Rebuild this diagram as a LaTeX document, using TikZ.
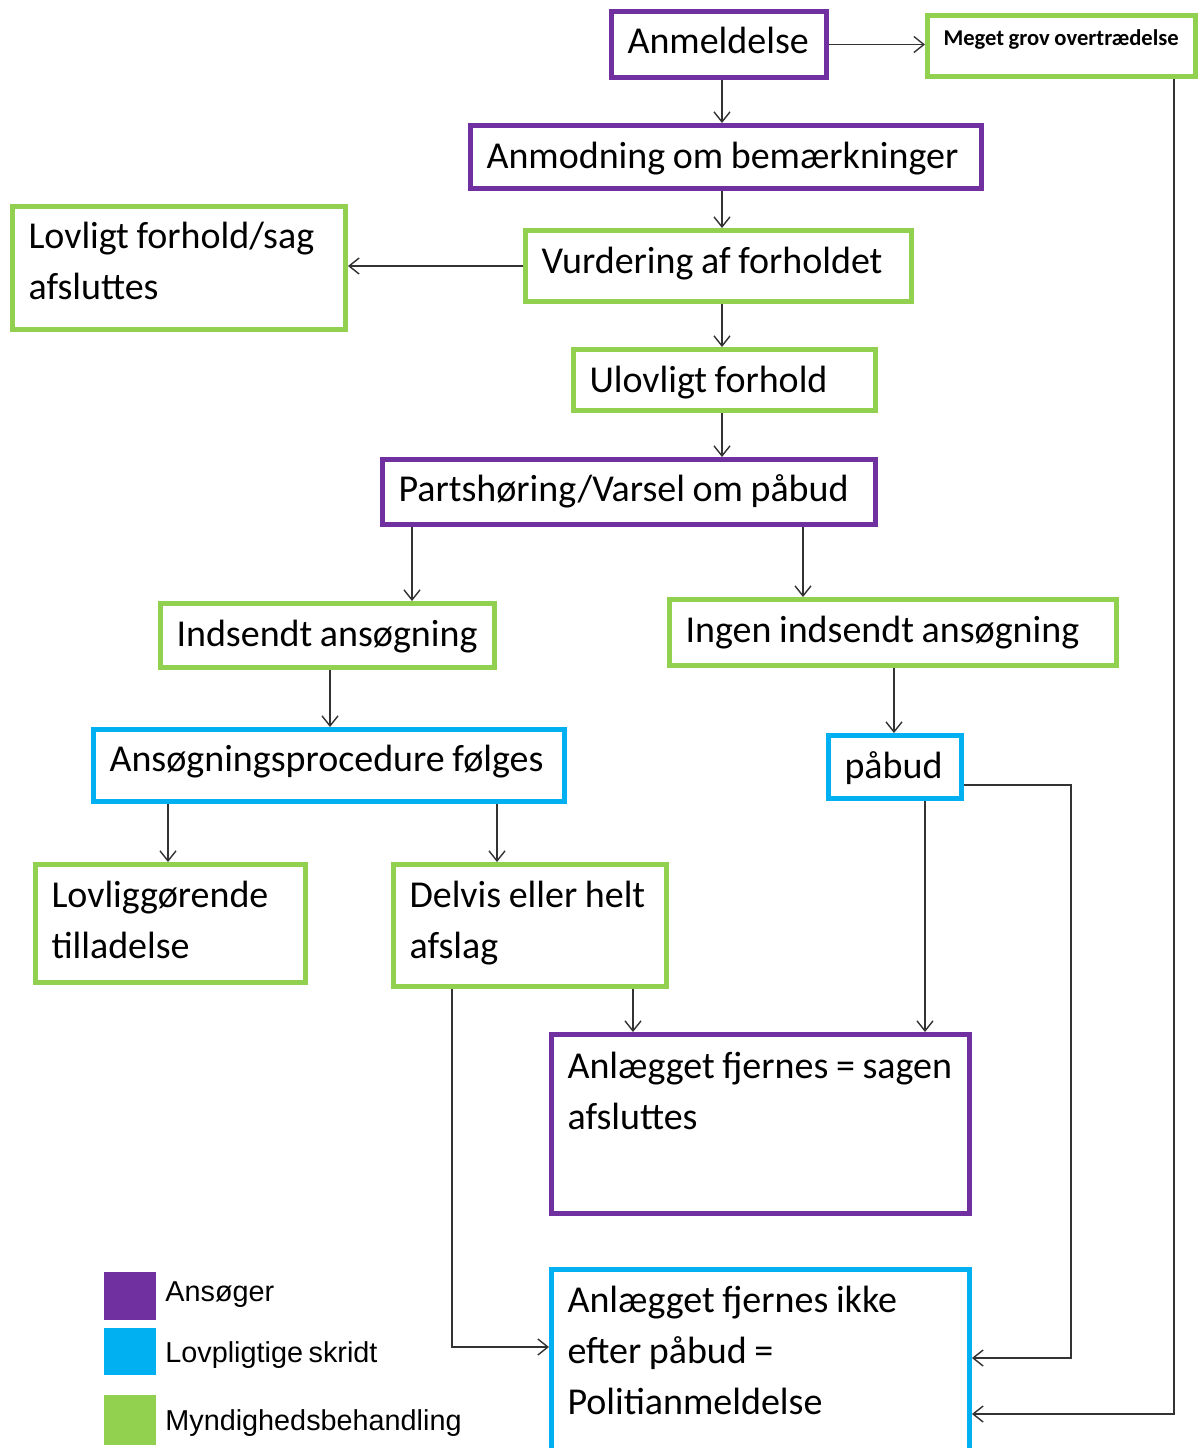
\documentclass[tikz,border=0pt]{standalone}
\usepackage{fontspec}
\setmainfont{Carlito}
\newfontfamily\legfont{Liberation Sans}[WordSpace=0.7]
\usetikzlibrary{arrows.meta}
\definecolor{purp}{HTML}{7030A0}
\definecolor{blu}{HTML}{00B0F0}
\definecolor{grn}{HTML}{92D050}
\newcommand\myws{\spaceskip=0.2em\relax}
\newcommand\oneline[1]{\mbox{\myws #1}}
\begin{document}
\begin{tikzpicture}[x=0.5pt,y=-0.5pt,
  fbox/.style={draw=#1, line width=2.5pt, rectangle, anchor=north west,
    inner xsep=8pt, inner ysep=0pt, minimum width=0pt, minimum height=0pt,
    align=left, font=\fontsize{19pt}{25.6pt}\selectfont},
  arr/.style={draw=black!80, line width=0.7pt, -{Straight Barb[length=5pt,width=8pt]}},
  sq/.style={draw=none, fill=#1, inner sep=0pt, outer sep=0pt, anchor=north west, minimum width=26pt},
  leg/.style={anchor=base west, inner sep=0pt, font=\legfont\fontsize{14.4pt}{17pt}\selectfont}]
\clip (0,0) rectangle (1199,1448);
\fill[white] (0,0) rectangle (1199,1448);

% boxes
\node[fbox=purp, text width=91.5pt, text height=20.75pt, text depth=12.25pt] (anm) at (609,9) {\oneline{Anmeldelse}};
\node[fbox=grn, text width=118pt, text height=14.75pt, text depth=15.75pt, font=\bfseries\fontsize{11.3pt}{13pt}\selectfont] (meget) at (925,13) {\oneline{Meget grov overtrædelse}};
\node[fbox=purp, text width=239.5pt, text height=21.25pt, text depth=10.25pt] (anmod) at (468,123) {\oneline{Anmodning om bemærkninger}};
\node[fbox=grn, text width=177pt, text height=21.25pt, text depth=14.25pt] (vurd) at (523,228) {\oneline{Vurdering af forholdet}};
\node[fbox=grn, text width=150.5pt, text height=20.75pt, text depth=40.75pt] (lov) at (10,204) {\oneline{Lovligt forhold/sag}\\\oneline{afsluttes}};
\node[fbox=grn, text width=135pt, text height=21.25pt, text depth=9.25pt] (ulov) at (571,347) {\oneline{Ulovligt forhold}};
\node[fbox=purp, text width=230.5pt, text height=20.75pt, text depth=11.75pt] (parts) at (380,457) {\oneline{Partshøring/Varsel om påbud}};
\node[fbox=grn, text width=151pt, text height=21.25pt, text depth=10.75pt] (inds) at (158,601) {\oneline{Indsendt ansøgning}};
\node[fbox=grn, text width=207.5pt, text height=21.25pt, text depth=11.75pt] (ingen) at (667,597) {\oneline{Ingen indsendt ansøgning}};
\node[fbox=blu, text width=219.5pt, text height=20.75pt, text depth=15.25pt] (ansp) at (91,727) {\oneline{Ansøgningsprocedure følges}};
\node[fbox=blu, text width=50.5pt, text height=21.25pt, text depth=10.25pt] (pabud) at (826,733) {\oneline{påbud}};
\node[fbox=grn, text width=119pt, text height=21.25pt, text depth=37.75pt] (lovl) at (33,862) {\oneline{Lovliggørende}\\\oneline{tilladelse}};
\node[fbox=grn, text width=120.5pt, text height=21.25pt, text depth=39.75pt] (delv) at (391,862) {\oneline{Delvis eller helt}\\\oneline{afslag}};
\node[fbox=purp, text width=193pt, text height=21.75pt, text depth=67.75pt] (fjern) at (549,1032) {\oneline{Anlægget fjernes = sagen}\\\oneline{afsluttes}};
\node[fbox=blu, text width=193pt, text height=21.25pt, text depth=87.75pt] (polit) at (549,1267) {\oneline{Anlægget fjernes ikke}\\\oneline{efter påbud =}\\\oneline{Politianmeldelse}};

% legend
\node[sq=purp, minimum height=24pt] (lg1) at (104,1272) {};
\node[sq=blu, minimum height=23.5pt] (lg2) at (104,1328) {};
\node[sq=grn, minimum height=25pt] (lg3) at (104,1395) {};
\node[leg] (lt1) at (165,1301) {Ansøger};
\node[leg] (lt2) at (165,1362) {Lovpligtige skridt};
\node[leg] (lt3) at (165,1430) {Myndighedsbehandling};

% helper coordinates
\coordinate (c722) at (722,0);
\coordinate (c412) at (412,0);
\coordinate (c803) at (803,0);
\coordinate (c330) at (330,0);
\coordinate (c894) at (894,0);
\coordinate (c168) at (168,0);
\coordinate (c497) at (497,0);
\coordinate (c633) at (633,0);
\coordinate (c925) at (925,0);
\coordinate (c452) at (452,0);
\coordinate (c1071) at (1071,0);
\coordinate (c1174) at (1174,0);
\coordinate (r785) at (0,785);
\coordinate (r1347) at (0,1347);
\coordinate (r1358) at (0,1358);
\coordinate (r1414) at (0,1414);

% connectors
\draw[arr] (anm.south -| c722) -- (anmod.north -| c722);
\draw[arr] (anm.east) -- (anm.east -| meget.west);
\draw[arr] (anmod.south -| c722) -- (vurd.north -| c722);
\draw[arr] (vurd.west) -- (vurd.west -| lov.east);
\draw[arr] (vurd.south -| c722) -- (ulov.north -| c722);
\draw[arr] (ulov.south -| c722) -- (parts.north -| c722);
\draw[arr] (parts.south -| c412) -- (inds.north -| c412);
\draw[arr] (parts.south -| c803) -- (ingen.north -| c803);
\draw[arr] (inds.south -| c330) -- (ansp.north -| c330);
\draw[arr] (ingen.south -| c894) -- (pabud.north -| c894);
\draw[arr] (ansp.south -| c168) -- (lovl.north -| c168);
\draw[arr] (ansp.south -| c497) -- (delv.north -| c497);
\draw[arr] (delv.south -| c633) -- (fjern.north -| c633);
\draw[arr] (pabud.south -| c925) -- (fjern.north -| c925);
\draw[arr] (delv.south -| c452) |- (polit.west |- r1347);
\draw[arr] (pabud.east |- r785) -| (c1071 |- r1358) -- (polit.east |- r1358);
\draw[arr] (meget.south -| c1174) -- (c1174 |- r1414) -- (polit.east |- r1414);
\end{tikzpicture}
\end{document}
